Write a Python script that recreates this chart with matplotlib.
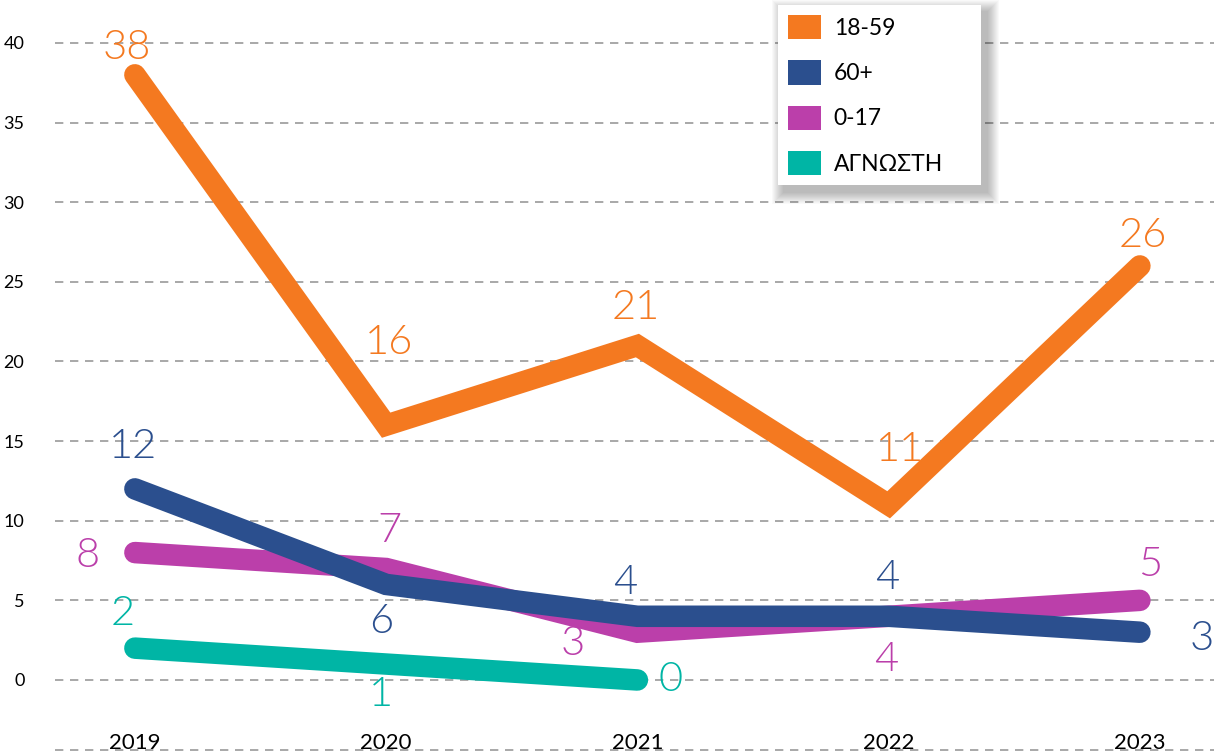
import matplotlib
matplotlib.use("Agg")
import matplotlib.pyplot as plt
from matplotlib.patches import Patch, Rectangle

# --- data -------------------------------------------------------------
years = ["2019", "2020", "2021", "2022", "2023"]
series_names = ["18-59", "60+", "0-17", "ΑΓΝΩΣΤΗ"]
adults = [38, 16, 21, 11, 26]          # 18-59
seniors = [12, 6, 4, 4, 3]             # 60+
minors = [8, 7, 3, 4, 5]               # 0-17
unknown = [2, 1, 0]                    # ΑΓΝΩΣΤΗ (2019-2021 only)
y_ticks = [0, 5, 10, 15, 20, 25, 30, 35, 40]

# --- style ------------------------------------------------------------
colors = {"18-59": "#F47920", "60+": "#2B4F8E", "0-17": "#BB3FAA", "ΑΓΝΩΣΤΗ": "#00B5A5"}
label_font = ["Lato", "DejaVu Sans"]
text_font = ["Lato", "Noto Sans", "DejaVu Sans"]

# value label offsets (pixels) relative to each point
offsets = {
    "18-59": [(-8, 27), (3, 83), (-2, 38), (11, 55), (3, 30)],
    "60+": [(-2, 42), (-5, -37), (-12, 34), (-1, 39), (62, -6)],
    "0-17": [(-47, -3), (3, 38), (-65, -11), (-2, -43), (10, 36)],
    "ΑΓΝΩΣΤΗ": [(-12, 35), (-5, -30), (33, 0)],
}

fig = plt.figure(figsize=(12.14, 7.51), dpi=100)
ax = fig.add_axes([55 / 1214, 0, 1 - 55 / 1214, 1])

x_all = list(range(len(years)))
data = [("ΑΓΝΩΣΤΗ", unknown), ("0-17", minors), ("60+", seniors), ("18-59", adults)]
for z, (name, vals) in enumerate(data):
    xs = x_all[:len(vals)]
    ax.plot(xs, vals, color=colors[name], lw=15.5, solid_capstyle="round",
            solid_joinstyle="miter", zorder=3 + z)
    for xi, v, (dx, dy) in zip(xs, vals, offsets[name]):
        ax.annotate(str(v), (xi, v), xytext=(dx, dy), textcoords="offset pixels",
                    ha="center", va="center", fontsize=30, fontweight=300,
                    family=label_font, color=colors[name], zorder=10,
                    annotation_clip=False)

# axes limits / grid
ax.set_xlim(-0.318, 4.295)
ax.set_ylim(-4.46, 42.70)
grid_style = dict(color="#9a9a9a", lw=1.2, dashes=(5, 4), zorder=1)
for t in y_ticks:
    ax.axhline(t, **grid_style)
ax.axhline(-4.4, **grid_style)

ax.set_yticks(y_ticks)
ax.set_yticklabels([str(t) for t in y_ticks], family=text_font, fontsize=13)
ax.tick_params(axis="y", length=0, pad=22)
ax.set_xticks(x_all)
ax.set_xticklabels(years, family=text_font, fontsize=16)
ax.tick_params(axis="x", length=0, pad=-13)
for s in ax.spines.values():
    s.set_visible(False)
ax.set_facecolor("none")

# legend
handles = [Patch(facecolor=colors[n], edgecolor="none") for n in series_names]
leg = ax.legend(handles, series_names, loc="upper left",
                bbox_to_anchor=(788 / 1214, 1 - 15 / 751),
                bbox_transform=fig.transFigure, frameon=False,
                prop={"family": text_font, "size": 16.5},
                handlelength=1.45, handleheight=1.25, labelspacing=0.92,
                handletextpad=0.55, borderpad=0, borderaxespad=0)
leg.set_zorder(20)

fig.canvas.draw()
bb = leg.get_window_extent()
x0, y0 = bb.x0 - 10, bb.y0 - 10
w, h = 981 - x0, bb.y1 + 10 - y0
# soft drop shadow behind the legend box
for i in range(12, 0, -1):
    fig.patches.append(Rectangle((x0 + 6 - i, y0 - 7 - i), w + 2 * i, h + 2 * i,
                                 transform=None, facecolor="black", edgecolor="none",
                                 alpha=0.022, zorder=18))
fig.patches.append(Rectangle((x0, y0), w, h, transform=None, facecolor="white",
                             edgecolor="none", zorder=19))
leg.remove()
fig.legends.append(leg)
leg.set_figure(fig)

fig.savefig("out.png", dpi=100)
